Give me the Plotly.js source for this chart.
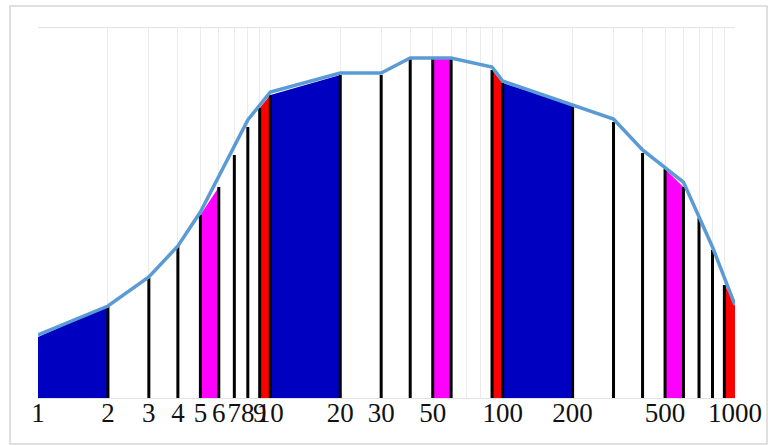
<!DOCTYPE html>
<html>
<head>
<meta charset="utf-8">
<script src="https://cdn.plot.ly/plotly-3.0.1.min.js"></script>
<style>
html,body{margin:0;padding:0;background:#fff;}
#chart{width:768px;height:445px;}
</style>
</head>
<body>
<div id="chart"></div>
<script>
// Blue outline curve (vertices)
const lineX = [1, 2, 3, 4, 5, 8, 10, 20, 30, 40, 60, 90, 100, 200, 300, 400, 600, 800, 1000];
const lineY = [63, 92, 121, 152, 186, 278, 306, 325, 325, 340, 340, 331, 317, 293, 279, 248, 216, 151, 93];

// Points with vertical drop lines
const ptX = [1, 2, 3, 4, 5, 6, 7, 8, 9, 10, 20, 30, 40, 50, 60, 90, 100, 200, 300, 400, 500, 600, 700, 800, 900, 1000];
const ptY = [61, 92, 120, 152, 183, 211, 243, 271, 290, 303, 323, 323, 340, 339, 339, 328, 315, 293, 276, 245, 229, 211, 180, 148, 113, 96];

// Coloured bands between consecutive points
const bandStart = [1, 5, 9, 10, 50, 90, 100, 500, 900];
const bandEnd   = [2, 6, 10, 20, 60, 100, 200, 600, 1000];
const bandKind  = ['blue', 'magenta', 'red', 'blue', 'magenta', 'red', 'blue', 'magenta', 'red'];

// Axis ticks
const tickVals = [1,2,3,4,5,6,7,8,9,10,20,30,40,50,60,70,80,90,100,200,300,400,500,600,700,800,900,1000];
const tickText = ['1','2','3','4','5','6','7','8','9','10','20','30','','50','','','','','100','200','','','500','','','','','1000'];

const kindColor = {blue: 'rgb(0,0,192)', magenta: 'rgb(255,0,255)', red: 'rgb(255,0,0)'};

function yAt(x) { return ptY[ptX.indexOf(x)]; }

const traces = [];
bandStart.forEach((a, i) => {
  const b = bandEnd[i];
  traces.push({
    type: 'scatter', mode: 'lines',
    x: [a, b], y: [yAt(a), yAt(b)],
    fill: 'tozeroy', fillcolor: kindColor[bandKind[i]],
    line: {width: 0, color: kindColor[bandKind[i]]},
    hoverinfo: 'skip', showlegend: false
  });
});

// drop lines (skip the two ends)
const dx = [], dy = [];
for (let i = 1; i < ptX.length - 1; i++) {
  dx.push(ptX[i], ptX[i], null);
  dy.push(0, ptY[i], null);
}
traces.push({
  type: 'scatter', mode: 'lines', x: dx, y: dy,
  line: {color: '#000000', width: 3}, hoverinfo: 'skip', showlegend: false
});

traces.push({
  type: 'scatter', mode: 'lines', x: lineX, y: lineY,
  line: {color: '#5B9BD5', width: 3.5}, showlegend: false
});

const layout = {
  width: 768, height: 445,
  margin: {l: 38, r: 33, t: 28, b: 47},
  paper_bgcolor: '#ffffff', plot_bgcolor: '#ffffff',
  showlegend: false,
  xaxis: {
    type: 'log', range: [0, 3],
    tickmode: 'array', tickvals: tickVals, ticktext: tickText,
    tickangle: 0, ticklabelstandoff: -9,
    showgrid: true, gridcolor: '#ececec', gridwidth: 1,
    showline: true, mirror: true, linecolor: '#e3e3e3', linewidth: 1,
    ticks: '', zeroline: false,
    tickfont: {family: 'Liberation Serif, serif', size: 27, color: '#111111'}
  },
  yaxis: {
    range: [0, 370], showgrid: false, zeroline: false,
    showticklabels: false, ticks: '', showline: false
  },
  shapes: [{
    type: 'rect', xref: 'paper', yref: 'paper',
    x0: (10 - 38) / 697, x1: (767 - 38) / 697,
    y0: (398 - 444) / 370, y1: (398 - 6) / 370,
    line: {color: '#d6d6d6', width: 1.5}, fillcolor: 'rgba(0,0,0,0)', layer: 'below'
  }]
};

Plotly.newPlot('chart', traces, layout, {displayModeBar: false, staticPlot: true});
</script>
</body>
</html>
